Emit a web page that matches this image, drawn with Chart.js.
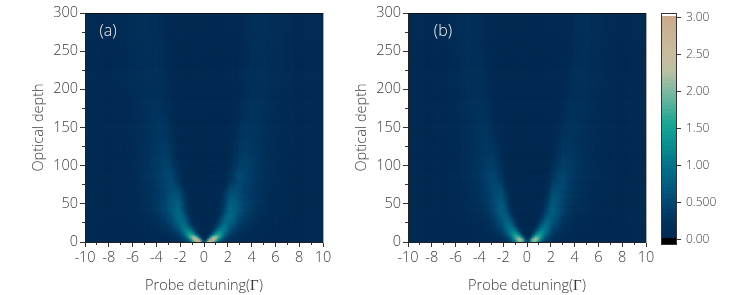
<!DOCTYPE html>
<html>
<head>
<meta charset="utf-8">
<script src="https://cdn.jsdelivr.net/npm/chart.js@4/dist/chart.umd.min.js"></script>
<style>
@font-face { font-family: GammaSerif; src: local('Liberation Serif'); unicode-range: U+0393; }
html, body { margin: 0; padding: 0; background: #fff; }
#wrap { position: relative; width: 747px; height: 295px; overflow: hidden; }
canvas { position: absolute; top: 0; }
</style>
</head>
<body>
<div id="wrap">
  <canvas id="chartA" width="340" height="295" style="left:0"></canvas>
  <canvas id="chartB" width="340" height="295" style="left:323px"></canvas>
  <canvas id="chartBar" width="107" height="295" style="left:640px"></canvas>
</div>
<script>
// detuning cell edges for x >= 0, both panels are mirrored round x = 0
const detuningEdges = [0,.25,.5,.75,1,1.25,1.5,1.75,2,2.5,3,3.5,4,4.5,5,5.5,6,6.5,7,8,10]
const depthEdges = [0,2,4,6,8,10,13,16,20,25,30,35,40,50,60,70,80,100,120,140,170,200,250,300]

// one row per depth cell, bottom row first
const heatA = [
  [.6,2.4,2.9,1.7,.85,.5,.33,.24,.15,.1,.08,.06,.05,.05,.04,.04,.03,.03,.03,.02],
  [.2,1.9,3.0,2.5,1.3,.72,.45,.3,.2,.12,.08,.07,.05,.05,.04,.04,.03,.03,.03,.02],
  [.06,.9,2.4,2.6,1.65,.95,.58,.38,.23,.14,.09,.07,.06,.05,.04,.04,.03,.03,.03,.02],
  [.03,.4,1.6,2.2,1.8,1.2,.75,.48,.27,.16,.1,.07,.06,.05,.04,.04,.03,.03,.03,.02],
  [.02,.18,.9,1.6,1.7,1.3,.88,.56,.31,.18,.11,.08,.06,.05,.05,.04,.03,.03,.03,.02],
  [.02,.07,.42,1.05,1.45,1.35,1.02,.7,.38,.2,.12,.08,.07,.05,.05,.04,.03,.03,.03,.02],
  [.01,.04,.2,.62,1.1,1.22,1.05,.8,.46,.26,.17,.11,.08,.06,.05,.04,.04,.03,.03,.02],
  [.01,.03,.11,.34,.72,1.0,1.05,.9,.56,.32,.21,.14,.1,.08,.07,.05,.04,.03,.03,.02],
  [.01,.02,.06,.17,.42,.72,.94,.95,.68,.4,.26,.18,.13,.1,.08,.06,.05,.04,.03,.02],
  [.01,.01,.03,.08,.23,.48,.76,.92,.8,.48,.32,.22,.16,.12,.09,.07,.05,.04,.03,.02],
  [.01,.01,.02,.05,.15,.35,.62,.85,.86,.56,.37,.26,.18,.14,.1,.07,.06,.04,.03,.02],
  [.01,.01,.01,.03,.1,.26,.5,.74,.86,.62,.42,.3,.22,.16,.12,.08,.06,.05,.03,.02],
  [.01,.01,.01,.02,.06,.17,.36,.58,.8,.66,.47,.34,.25,.18,.13,.09,.07,.05,.03,.02],
  [.01,.01,.01,.01,.04,.12,.28,.48,.7,.65,.46,.35,.27,.2,.14,.09,.07,.05,.03,.02],
  [.01,.01,.01,.01,.02,.08,.21,.38,.55,.58,.42,.32,.26,.2,.14,.09,.07,.05,.03,.02],
  [.01,.01,.01,.01,.01,.02,.05,.14,.36,.54,.44,.34,.27,.21,.15,.1,.08,.05,.03,.02],
  [.01,.01,.01,.01,.01,.01,.02,.06,.2,.46,.46,.36,.29,.23,.16,.11,.08,.06,.03,.02],
  [.01,.01,.01,.01,.01,.01,.01,.02,.06,.28,.41,.36,.3,.24,.17,.12,.09,.06,.03,.02],
  [.01,.01,.01,.01,.01,.01,.01,.01,.05,.22,.31,.3,.26,.21,.15,.11,.08,.05,.03,.02],
  [.01,.01,.01,.01,.01,.01,.01,.01,.03,.12,.26,.28,.26,.22,.16,.12,.09,.06,.03,.02],
  [.01,.01,.01,.01,.01,.01,.01,.01,.01,.05,.13,.22,.23,.21,.17,.13,.1,.07,.04,.02],
  [.01,.01,.01,.01,.01,.01,.01,.01,.01,.02,.1,.16,.18,.18,.16,.14,.12,.09,.05,.02],
  [.01,.01,.01,.01,.01,.01,.01,.01,.01,.01,.05,.11,.15,.16,.15,.14,.12,.1,.05,.02]
]
const heatB = [
  [.45,1.7,2.1,1.4,.75,.42,.28,.2,.13,.09,.07,.05,.05,.04,.04,.03,.03,.03,.02,.02],
  [.3,1.75,2.35,1.85,1.05,.6,.38,.26,.16,.1,.07,.06,.05,.04,.04,.03,.03,.03,.02,.02],
  [.12,1.2,2.1,1.95,1.25,.75,.47,.31,.2,.12,.08,.06,.05,.04,.04,.03,.03,.03,.02,.02],
  [.05,.65,1.6,1.75,1.35,.88,.55,.36,.23,.13,.09,.07,.05,.05,.04,.03,.03,.03,.02,.02],
  [.03,.32,1.15,1.55,1.4,1.0,.66,.43,.27,.15,.1,.07,.06,.05,.04,.03,.03,.03,.02,.02],
  [.02,.15,.72,1.25,1.32,1.08,.78,.53,.32,.17,.11,.08,.06,.05,.04,.04,.03,.03,.02,.02],
  [.01,.07,.36,.88,1.15,1.1,.87,.63,.36,.2,.12,.09,.07,.05,.04,.04,.03,.03,.02,.02],
  [.01,.03,.18,.52,.92,1.02,.9,.72,.42,.23,.14,.1,.07,.06,.05,.04,.03,.03,.02,.02],
  [.01,.02,.08,.26,.6,.86,.9,.78,.52,.28,.16,.11,.08,.06,.05,.04,.03,.03,.02,.02],
  [.01,.01,.04,.13,.36,.65,.82,.8,.58,.33,.18,.12,.09,.07,.05,.04,.04,.03,.02,.02],
  [.01,.01,.02,.07,.2,.43,.68,.77,.65,.4,.24,.16,.12,.1,.07,.05,.04,.03,.02,.02],
  [.01,.01,.01,.04,.12,.3,.54,.71,.7,.45,.27,.18,.13,.1,.07,.05,.04,.03,.02,.02],
  [.01,.01,.01,.02,.07,.18,.38,.6,.72,.5,.31,.22,.16,.12,.09,.06,.05,.03,.02,.02],
  [.01,.01,.01,.01,.03,.1,.26,.46,.65,.52,.34,.25,.18,.14,.1,.07,.05,.03,.02,.02],
  [.01,.01,.01,.01,.01,.05,.14,.32,.55,.52,.37,.27,.2,.15,.11,.08,.05,.03,.02,.02],
  [.01,.01,.01,.01,.01,.02,.07,.18,.42,.52,.4,.29,.22,.16,.12,.08,.06,.04,.02,.02],
  [.01,.01,.01,.01,.01,.01,.02,.07,.25,.45,.4,.31,.24,.18,.13,.09,.07,.04,.02,.01],
  [.01,.01,.01,.01,.01,.01,.01,.02,.1,.31,.36,.3,.24,.19,.14,.1,.07,.04,.02,.01],
  [.01,.01,.01,.01,.01,.01,.01,.01,.05,.2,.29,.27,.22,.18,.13,.09,.07,.04,.02,.01],
  [.01,.01,.01,.01,.01,.01,.01,.01,.02,.09,.23,.25,.22,.18,.14,.1,.07,.05,.03,.01],
  [.01,.01,.01,.01,.01,.01,.01,.01,.01,.04,.13,.21,.21,.19,.15,.12,.08,.05,.03,.02],
  [.01,.01,.01,.01,.01,.01,.01,.01,.01,.02,.07,.14,.17,.17,.15,.12,.09,.06,.03,.01],
  [.01,.01,.01,.01,.01,.01,.01,.01,.01,.01,.02,.07,.13,.15,.15,.13,.1,.06,.03,.02]
]

// colour scale
const barLevels = [-.054,0,.05,.1,.15,.2,.25,.3,.35,.4,.45,.5,.55,.6,.65,.7,.75,.8,.85,.9,.95,1,1.05,1.1,1.15,1.2,1.25,1.3,1.35,1.4,1.45,1.5,1.55,1.6,1.65,1.7,1.75,1.8,1.85,1.9,1.95,2,2.05,2.1,2.15,2.2,2.25,2.3,2.35,2.4,2.45,2.5,2.55,2.6,2.65,2.7,2.75,2.8,2.85,2.9,2.95,3,3.06]
const barTicks = [0,.5,1,1.5,2,2.5,3]
const barTickLabels = ['0.00','0.500','1.00','1.50','2.00','2.50','3.00']
const colorValues = [0,.1,.25,.5,.75,1,1.25,1.5,1.75,2,2.25,2.5,3]
const colorStops = ['#022a52','#022d56','#02355f','#034a73','#03607f','#04758a','#0a8f90','#14a594','#4cb09a','#87baa2','#bcc0a3','#cbbb9d','#c8a98a']

const textColor = '#3a3a3a'
const fontFamily = "GammaSerif, 'Open Sans'"

function toRgb(hex) {
    return [1, 3, 5].map(i => parseInt(hex.substr(i, 2), 16))
}

function colorFor(v) {
    if (v < 0) return '#000'
    if (v >= 3.01) return '#fff'
    let i = 0
    while (i < colorValues.length - 2 && v > colorValues[i + 1]) i++
    const t = Math.min(1, (v - colorValues[i]) / (colorValues[i + 1] - colorValues[i]))
    const a = toRgb(colorStops[i])
    const b = toRgb(colorStops[i + 1])
    return 'rgb(' + a.map((c, k) => Math.round(c + (b[k] - c) * t)).join(',') + ')'
}

// a cell tile, solid except its left and bottom edges that fade over the neighbours drawn before it
function makeTile(w, h, fadeL, fadeR, fadeB, fadeT, color) {
    const extX = Math.max(fadeL, fadeR)
    const extY = Math.max(fadeB, fadeT)
    const W = Math.ceil(w + 2 * extX) + 2
    const H = Math.ceil(h + 2 * extY) + 2
    const c = document.createElement('canvas')
    c.width = W
    c.height = H
    const g = c.getContext('2d')
    g.fillStyle = color
    g.fillRect(0, 0, W, H)
    g.globalCompositeOperation = 'destination-in'
    if (fadeL > 0) {
        const x = W / 2 - w / 2
        const fx = g.createLinearGradient(x - fadeL, 0, x + fadeL, 0)
        fx.addColorStop(0, 'rgba(0,0,0,0)')
        fx.addColorStop(1, 'rgba(0,0,0,1)')
        g.fillStyle = fx
        g.fillRect(0, 0, W, H)
    }
    if (fadeB > 0) {
        const y = H / 2 + h / 2
        const fy = g.createLinearGradient(0, y + fadeB, 0, y - fadeB)
        fy.addColorStop(0, 'rgba(0,0,0,0)')
        fy.addColorStop(1, 'rgba(0,0,0,1)')
        g.fillStyle = fy
        g.fillRect(0, 0, W, H)
    }
    return c
}

// each cell is a scatter point whose point style is a tile as big as the cell on the scales
function cellStyle(ctx) {
    const cell = ctx.raw
    if (!cell) return 'rect'
    if (cell.tile) return cell.tile
    const sx = ctx.chart.scales.x
    const sy = ctx.chart.scales.y
    const pxX = Math.abs(sx.getPixelForValue(1) - sx.getPixelForValue(0))
    const pxY = Math.abs(sy.getPixelForValue(1) - sy.getPixelForValue(0))
    // options are also read once before the layout has sized the scales
    if (!ctx.chart.chartArea || !(pxX > 0) || !(pxY > 0)) return 'rect'
    cell.tile = makeTile((cell.x1 - cell.x0) * pxX, (cell.y1 - cell.y0) * pxY,
        cell.fadeL * pxX, cell.fadeR * pxX, cell.fadeB * pxY, cell.fadeT * pxY, cell.color)
    return cell.tile
}

// half of the narrower cell at edge k of a list of edges, 0 at the outer edges
function fadeAt(edges, k) {
    if (k <= 0 || k >= edges.length - 1) return 0
    return Math.min(edges[k] - edges[k - 1], edges[k + 1] - edges[k]) / 2
}

function heatCells(rows) {
    const cells = []
    const xEdges = detuningEdges.slice(1).reverse().map(v => -v).concat(detuningEdges)
    for (let r = 0; r < rows.length; r++) {
        const row = rows[r].slice().reverse().concat(rows[r])
        for (let c = 0; c < row.length; c++) {
            const x0 = xEdges[c]
            const x1 = xEdges[c + 1]
            const y0 = depthEdges[r]
            const y1 = depthEdges[r + 1]
            cells.push({
                x: (x0 + x1) / 2, y: (y0 + y1) / 2, x0, x1, y0, y1,
                fadeL: fadeAt(xEdges, c), fadeR: fadeAt(xEdges, c + 1),
                fadeB: fadeAt(depthEdges, r), fadeT: fadeAt(depthEdges, r + 1),
                color: colorFor(row[c])
            })
        }
    }
    return cells
}

function barCells() {
    const cells = []
    for (let i = barLevels.length - 2; i >= 0; i--) {
        const y0 = barLevels[i]
        const y1 = barLevels[i + 1]
        cells.push({
            x: .5, y: (y0 + y1) / 2, x0: 0, x1: 1, y0, y1,
            fadeL: 0, fadeR: 0, fadeB: 0, fadeT: 0,
            color: colorFor(i == 0 ? -1 : (y0 + y1) / 2 > 3 ? 4 : y0)
        })
    }
    return cells
}

function font(size, weight) {
    return {family: fontFamily, size: size, weight: weight || '400'}
}

const panelLabel = {
    id: 'panelLabel',
    afterDraw(chart, args, opts) {
        const g = chart.ctx
        g.save()
        g.fillStyle = '#f2f2f2'
        g.font = "300 16px " + fontFamily
        g.textAlign = 'center'
        g.textBaseline = 'middle'
        g.fillText(opts.text, chart.scales.x.getPixelForValue(opts.x), chart.scales.y.getPixelForValue(opts.y))
        g.restore()
    }
}

function fixed(size) {
    return scale => {
        if (scale.isHorizontal()) scale.height = size
        else scale.width = size
    }
}

// Chart.js has one tick length per scale, the short ticks and frame get their own zero size scales
function markScale(position, min, max, step, len) {
    return {
        type: 'linear', position, min, max, weight: 0,
        afterFit: fixed(0),
        ticks: {display: false, stepSize: step, autoSkip: false},
        grid: {drawOnChartArea: false, drawTicks: len > 0, tickLength: len, tickColor: '#333', tickWidth: 1},
        border: {display: false}
    }
}

function frameScale(position, color) {
    const s = markScale(position, 0, 1, 1, 0)
    s.grid.display = false
    s.border = {display: true, color, width: 1, z: 1}
    return s
}

function heatChart(id, rows, label, labelX) {
    return new Chart(document.getElementById(id), {
        type: 'scatter',
        plugins: [panelLabel],
        data: {
            datasets: [{
                data: heatCells(rows),
                pointStyle: cellStyle,
                pointRadius: 1,
                pointBorderWidth: 0
            }]
        },
        options: {
            responsive: false,
            animation: false,
            events: [],
            layout: {padding: {left: 30, right: 17, top: 13, bottom: 0}},
            plugins: {
                legend: {display: false},
                tooltip: {enabled: false},
                panelLabel: {text: label, x: labelX, y: 276}
            },
            scales: {
                x: {
                    type: 'linear', min: -10, max: 10, position: 'bottom', weight: 1,
                    afterFit: fixed(53),
                    ticks: {stepSize: 2, autoSkip: false, maxRotation: 0, padding: 2, color: textColor, font: font(14.5, '300')},
                    grid: {drawOnChartArea: false, tickLength: 5, tickColor: '#333', tickWidth: 1},
                    border: {color: '#222', width: 1, z: 1},
                    title: {display: true, text: 'Probe detuning(\u0393)', color: textColor, font: font(14.5, '300'), padding: 0}
                },
                x2: markScale('bottom', -10, 10, 1, 3),
                x3: frameScale('top', '#111'),
                y: {
                    type: 'linear', min: 0, max: 300, position: 'left', weight: 1,
                    afterFit: fixed(55),
                    ticks: {stepSize: 50, autoSkip: false, padding: 2, color: textColor, font: font(14.5, '300')},
                    grid: {drawOnChartArea: false, tickLength: 5, tickColor: '#333', tickWidth: 1},
                    border: {color: '#222', width: 1, z: 1},
                    title: {display: true, text: 'Optical depth', color: textColor, font: font(14.5, '300'), padding: 0}
                },
                y2: markScale('left', 0, 300, 25, 3),
                y3: frameScale('right', '#aaa')
            }
        }
    })
}

const chartA = heatChart('chartA', heatA, '(a)', -8.07)
const chartB = heatChart('chartB', heatB, '(b)', -7.06)

const chartBar = new Chart(document.getElementById('chartBar'), {
    type: 'scatter',
    data: {
        datasets: [{
            data: barCells(),
            pointStyle: cellStyle,
            pointRadius: 1,
            pointBorderWidth: 0
        }]
    },
    options: {
        responsive: false,
        animation: false,
        events: [],
        layout: {padding: {left: 21, right: 0, top: 13, bottom: 51}},
        plugins: {legend: {display: false}, tooltip: {enabled: false}},
        scales: {
            x: {
                type: 'linear', min: 0, max: 1, position: 'bottom',
                afterFit: fixed(0),
                ticks: {display: false},
                grid: {display: false},
                border: {color: '#333', width: 1, z: 1}
            },
            x3: frameScale('top', '#333'),
            y: {
                type: 'linear', min: -.054, max: 3.06, position: 'right',
                afterFit: fixed(71),
                afterBuildTicks: scale => { scale.ticks = barTicks.map(v => ({value: v})) },
                ticks: {
                    autoSkip: false, padding: 5, color: textColor, font: font(12, '300'),
                    callback: v => barTickLabels[barTicks.indexOf(v)]
                },
                grid: {drawOnChartArea: false, tickLength: 5, tickColor: '#333', tickWidth: 1},
                border: {color: '#333', width: 1, z: 1}
            },
            y3: frameScale('left', '#333')
        }
    }
})

// the local Γ face only comes in after the first draw
document.fonts.load('15px GammaSerif', '\u0393').then(() => {
    chartA.update()
    chartB.update()
    chartBar.update()
})
</script>
</body>
</html>
